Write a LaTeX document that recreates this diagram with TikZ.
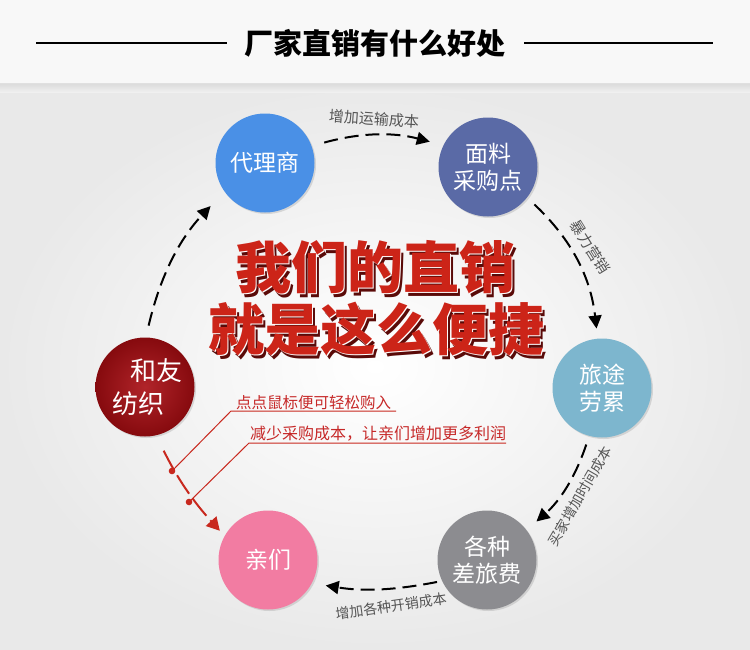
\documentclass[tikz,border=0pt]{standalone}
\usepackage{fontspec}
\newfontfamily\cjk{Noto Sans CJK SC}
\usetikzlibrary{arrows.meta,shadows}
\definecolor{topbg}{HTML}{F8F8F8}
\definecolor{bggray}{HTML}{E9E9E9}
\definecolor{cblue}{HTML}{4A90E6}
\definecolor{cslate}{HTML}{5A6AA6}
\definecolor{clight}{HTML}{7DB6CE}
\definecolor{cgray}{HTML}{8C8C90}
\definecolor{cpink}{HTML}{F27CA2}
\definecolor{cred}{HTML}{A80C12}
\definecolor{cdred}{HTML}{860A0E}
\definecolor{lnred}{HTML}{C8281E}
\definecolor{txred}{HTML}{C62828}
\definecolor{bigred}{HTML}{CC2418}
\definecolor{bigshadow}{HTML}{5A0A08}
\definecolor{lblgray}{HTML}{555555}
\newcommand\slogantext[1]{\rlap{\hspace*{3.5pt}\raisebox{-3.5pt}{\color{bigshadow}#1}}\rlap{\hspace*{1pt}\raisebox{-1pt}{\color{white}#1}}{\color{bigred}#1}}
\begin{document}
\begin{tikzpicture}[x=1pt,y=-1pt,
  bub/.style={circle, minimum size=99, inner sep=0pt, text=white, align=center,
    font=\cjk\fontsize{23}{27}\selectfont,
    drop shadow={opacity=0.25, shadow xshift=1.5pt, shadow yshift=-1.5pt}},
  blk/.style={line width=2pt, black, dash pattern=on 14pt off 7pt,
    -{Triangle[width=13pt,length=13pt]}},
  redarr/.style={line width=2pt, lnred, dash pattern=on 22pt off 6pt,
    -{Triangle[width=14pt,length=13pt,color=lnred]}},
  lbl/.style={text=lblgray, inner sep=0pt, font=\cjk\fontsize{15}{18}\selectfont},
  callout/.style={lnred, line width=1pt},
  calltext/.style={text=txred, inner sep=0pt, anchor=base west},
  big/.style={inner sep=0pt, font=\cjk\bfseries\fontsize{56}{60}\selectfont},
  titleline/.style={line width=1.2pt, black}
]
\useasboundingbox (0,0) rectangle (750,649);
% background
\fill[topbg] (0,0) rectangle (750,84);
\shade[inner color=white, outer color=bggray] (0,84) rectangle (750,649);
\shade[top color=black!18, bottom color=black!4, opacity=0.6] (0,83) rectangle (750,92);

% title
\node[inner sep=0pt, font=\cjk\bfseries\fontsize{29}{32}\selectfont] (title) at (375,43) {厂家直销有什么好处};
\draw[titleline] (36,43) -- (227,43);
\draw[titleline] (524,43) -- (713,43);

% circles
\node[bub, fill=cblue] (dl) at (265,163) {代理商};
\node[bub, fill=cslate] (ml) at (488,167) {面料\\采购点};
\node[bub, fill=clight] (lt) at (602,388) {旅途\\劳累};
\node[bub, fill=cgray] (gz) at (487,560) {各种\\差旅费};
\node[bub, fill=cpink] (qm) at (268,560) {亲们};
\node[bub, inner color=cred!90!white, outer color=cdred, font=\cjk\fontsize{26}{33}\selectfont] (hy) at (145,387) {\hspace*{22pt}和友\\纺织\hspace*{14pt}};

% central slogan
\node[big] (s1) at (375,269) {\slogantext{我们的直销}};
\node[big] (s2) at (376,331) {\slogantext{就是这么便捷}};

% connectors
\draw[blk, shorten <=13pt, shorten >=14pt] (dl.20) to[bend left=15] (ml.154);
\draw[blk, shorten <=10pt, shorten >=10pt] (ml.-38) to[bend left=20] (lt.95);
\draw[blk, shorten <=9pt, shorten >=13pt] (lt.-105) to[bend left=15] (gz.37);
\draw[blk, shorten <=5pt, shorten >=14pt] (gz.-155) to[bend left=10] (qm.-28);
\draw[blk, shorten <=12pt, shorten >=20pt] (hy.89) to[bend left=15] (dl.-145);
\draw[redarr, shorten <=17pt, shorten >=7pt] (hy.-77) to[bend right=8] (qm.151);

% arrow labels
\node[lbl, rotate=-4] (l1) at (374,119) {增加运输成本};
\node[lbl, rotate=-58] (l2) at (590,247) {暴力营销};
\node[lbl, rotate=60, font=\cjk\fontsize{14}{16}\selectfont] (l3) at (580,496) {买家增加时间成本};
\node[lbl, rotate=8, font=\cjk\fontsize{14}{16}\selectfont] (l4) at (391,606) {增加各种开销成本};

% callouts
\coordinate (c1) at (172,471);
\coordinate (c2) at (189,502);
\draw[callout] (c1) -- (231,411) -- (396,411);
\draw[callout] (c2) -- (249,443) -- (506,443);
\fill[lnred] (c1) circle (3.3);
\fill[lnred] (c2) circle (3.3);
\node[calltext, font=\cjk\fontsize{15.5}{18}\selectfont] (t1) at (236,408.5) {点点鼠标便可轻松购入};
\node[calltext, font=\cjk\fontsize{16}{18}\selectfont] (t2) at (250,439) {减少采购成本，让亲们增加更多利润};
\end{tikzpicture}
\end{document}
